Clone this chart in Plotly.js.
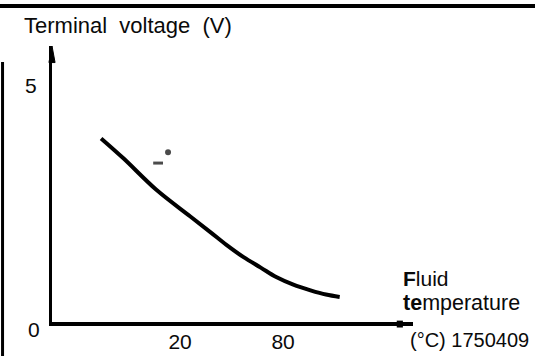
<!DOCTYPE html>
<html>
<head>
<meta charset="utf-8">
<script src="https://cdn.plot.ly/plotly-3.0.1.min.js"></script>
<style>html,body{margin:0;padding:0;background:#fff;}#chart{width:535px;height:356px;}</style>
</head>
<body>
<div id="chart"></div>
<script>
// Fluid temperature (°C) vs terminal voltage (V)
const fluidTemp = [-26, -13, 6, 26, 38, 47, 57, 67, 76, 86, 96, 105, 113];
const terminalVoltage = [3.88, 3.46, 2.80, 2.23, 1.89, 1.63, 1.37, 1.15, 0.95, 0.79, 0.67, 0.58, 0.53];
// small stray marks on the scanned figure
const markTemp = [7.2, 13.0];
const markVoltage = [3.36, 3.59];
const xTickVals = [20, 80];
const xTickText = ['20', '80'];
const yTickVals = [5];
const yTickText = ['5'];

const FONT = 'Liberation Sans, Arial, sans-serif';
const INK = '#0a0a0a';

const traces = [
  {x: fluidTemp, y: terminalVoltage, type: 'scatter', mode: 'lines',
   line: {color: '#000', width: 4, shape: 'spline', smoothing: 1}, hoverinfo: 'skip'},
  {x: markTemp, y: markVoltage, type: 'scatter', mode: 'markers',
   marker: {color: '#000', size: [7, 3], symbol: ['line-ew', 'circle'], line: {width: 3, color: '#000'}}, hoverinfo: 'skip'}
];

const layout = {
  width: 535, height: 356,
  margin: {l: 52, r: 122, t: 46, b: 34},
  paper_bgcolor: '#fff', plot_bgcolor: '#fff',
  showlegend: false,
  font: {family: FONT, size: 20, color: INK},
  xaxis: {range: [-54.6, 155.7], showgrid: false, zeroline: false,
          showline: true, linecolor: '#000', linewidth: 4,
          tickvals: xTickVals, ticktext: xTickText, ticks: '',
          ticklabelstandoff: -2,
          tickfont: {family: FONT, size: 21, color: INK}},
  yaxis: {range: [0, 5.835], showgrid: false, zeroline: false,
          showline: true, linecolor: '#000', linewidth: 3,
          tickvals: yTickVals, ticktext: yTickText, ticks: '',
          ticklabelstandoff: 8,
          tickfont: {family: FONT, size: 21, color: INK}},
  shapes: [
    // top border rule of scanned page
    {type: 'line', xref: 'paper', yref: 'paper', x0: -0.2, x1: 1.5, y0: 1.145, y1: 1.145,
     line: {color: '#000', width: 4}},
    // left border rule
    {type: 'line', xref: 'paper', yref: 'paper', x0: -0.137, x1: -0.137, y0: -0.2, y1: 0.942,
     line: {color: '#000', width: 3}},
    // y-axis arrowhead
    {type: 'path', xref: 'paper', yref: 'paper', path: 'M -0.0085 0.94 L 0.0085 0.94 L 0 1.0 Z',
     fillcolor: '#000', line: {color: '#000', width: 1}},
    // x-axis end block
    {type: 'rect', xref: 'paper', yref: 'paper', x0: 0.955, x1: 0.972, y0: -0.02, y1: 0.005,
     fillcolor: '#000', line: {width: 0}}
  ],
  annotations: [
    {text: 'Terminal&nbsp; voltage&nbsp; (V)', xref: 'paper', yref: 'paper', x: -0.083, y: 1.076,
     xanchor: 'left', yanchor: 'middle', showarrow: false, font: {family: FONT, size: 22, color: INK}},
    {text: '0', xref: 'paper', yref: 'y', x: 0, y: 0, xanchor: 'right', yanchor: 'middle',
     xshift: -10, yshift: -7, showarrow: false, font: {family: FONT, size: 21, color: INK}},
    {text: '<b>F</b>luid', xref: 'paper', yref: 'paper', x: 0.967, y: 0.159,
     xanchor: 'left', yanchor: 'middle', showarrow: false, font: {family: FONT, size: 21, color: INK}},
    {text: '<b>te</b>mperature', xref: 'paper', yref: 'paper', x: 0.967, y: 0.069,
     xanchor: 'left', yanchor: 'middle', showarrow: false, font: {family: FONT, size: 21.5, color: INK}},
    {text: '(°C) 1750409', xref: 'paper', yref: 'paper', x: 0.986, y: -0.065,
     xanchor: 'left', yanchor: 'middle', showarrow: false, font: {family: FONT, size: 20, color: INK}}
  ]
};

Plotly.newPlot('chart', traces, layout, {staticPlot: true, displayModeBar: false});
</script>
</body>
</html>
